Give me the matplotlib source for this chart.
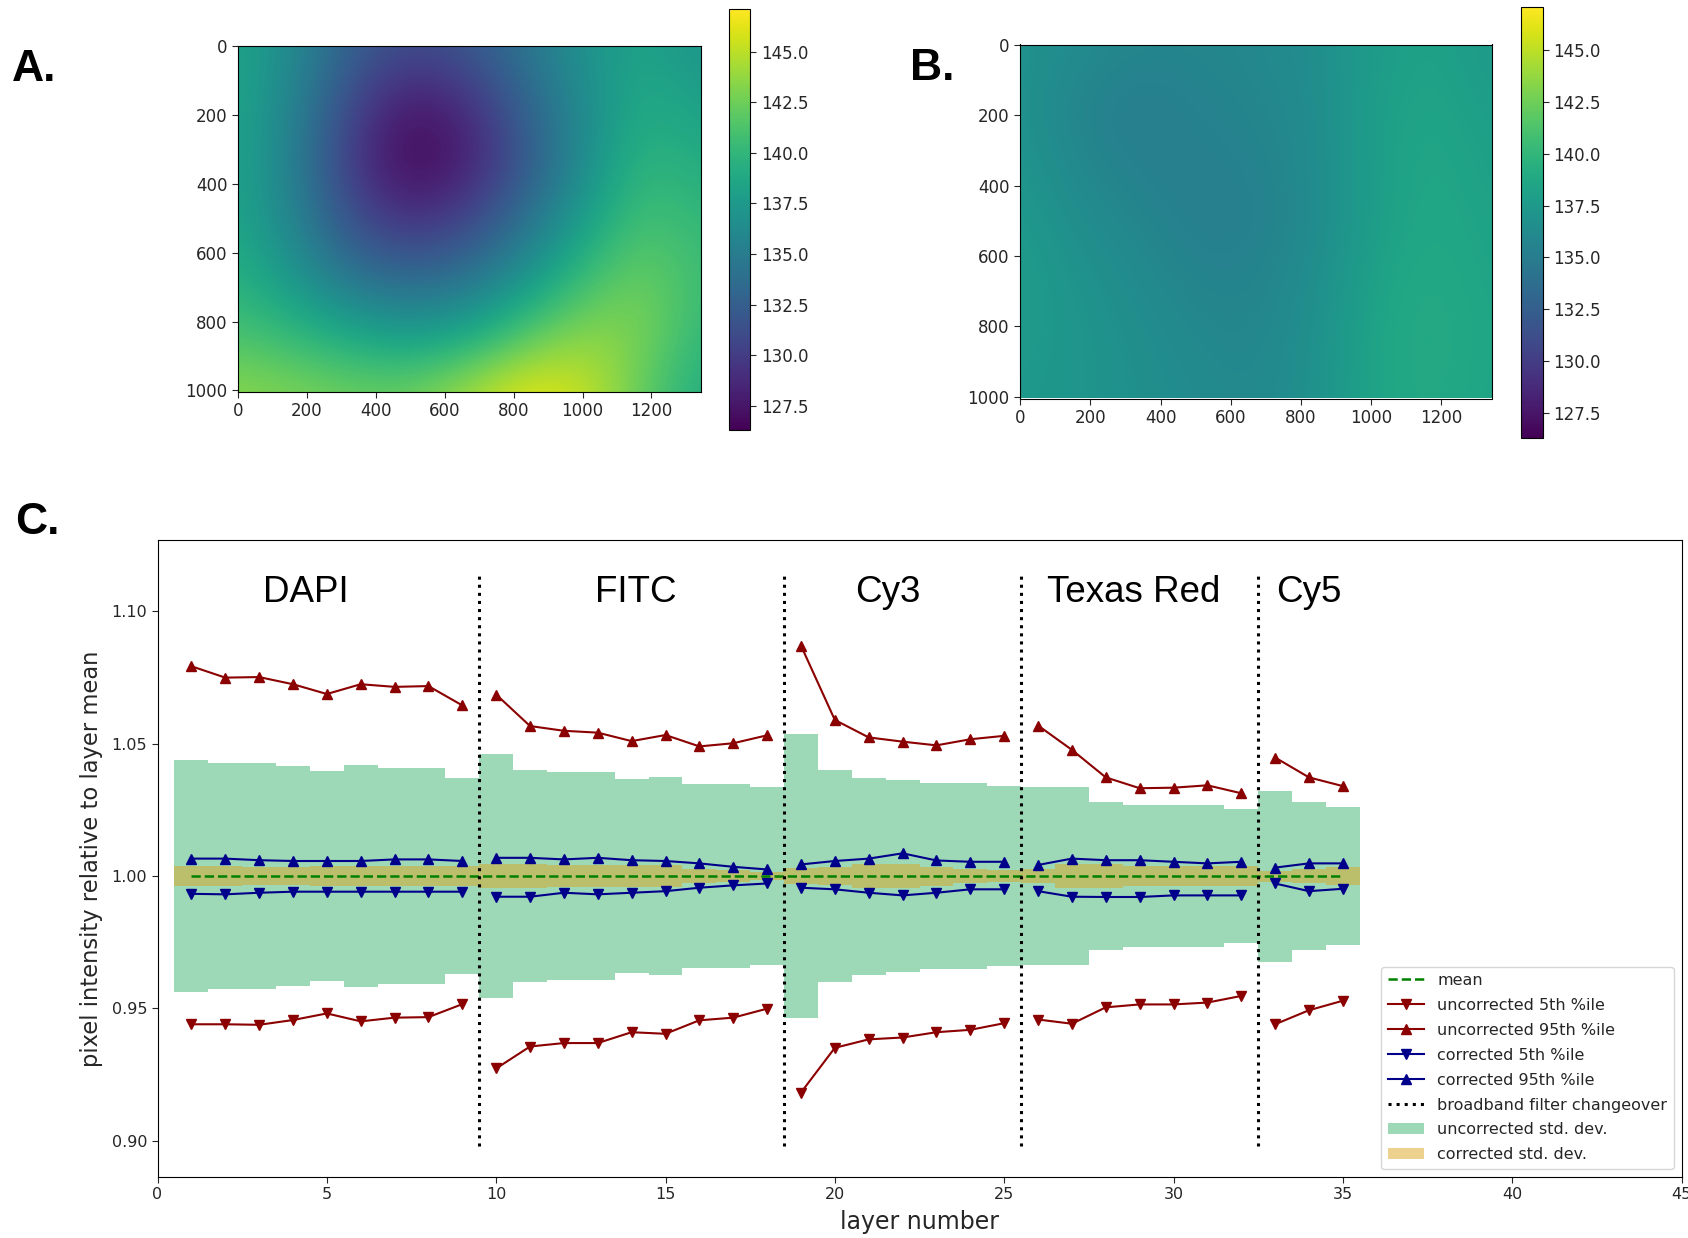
import numpy as np
import matplotlib
matplotlib.use("Agg")
import matplotlib.pyplot as plt
from matplotlib.lines import Line2D
from matplotlib.patches import Patch

# ---------------- data ----------------
# Panel A / B : coarse flat-field maps (rows y = 0..1000, cols x = 0..1344), read by eye
flatfield_uncorrected = [
    [138.5, 136.0, 132.5, 131.0, 132.0, 134.5, 137.0, 138.5, 137.0],
    [138.5, 135.5, 130.5, 127.5, 129.0, 133.0, 136.5, 139.0, 138.0],
    [138.5, 135.0, 129.5, 126.3, 128.0, 132.0, 136.5, 140.0, 139.0],
    [138.5, 135.5, 131.0, 129.0, 130.5, 134.0, 138.0, 141.0, 140.0],
    [139.5, 137.0, 134.0, 133.0, 134.0, 137.0, 140.5, 142.5, 140.5],
    [141.0, 140.0, 138.5, 137.5, 138.5, 141.5, 143.5, 143.0, 140.0],
    [143.5, 143.0, 142.5, 142.5, 144.5, 146.5, 145.5, 142.0, 139.0],
]
flatfield_corrected = [
    [137.0, 136.3, 135.8, 135.8, 136.0, 136.5, 137.8, 138.3, 137.5],
    [137.0, 135.6, 135.1, 135.5, 135.8, 136.3, 138.0, 138.5, 137.8],
    [137.2, 135.9, 135.3, 135.3, 135.5, 136.3, 138.0, 138.7, 138.0],
    [137.6, 136.5, 135.8, 135.2, 135.3, 136.2, 138.0, 138.8, 138.2],
    [137.8, 137.0, 136.3, 135.6, 135.6, 136.5, 138.3, 139.0, 138.3],
    [137.6, 137.2, 136.6, 136.0, 135.8, 136.7, 138.5, 139.2, 138.4],
    [137.4, 137.2, 136.7, 136.3, 136.0, 136.8, 138.5, 139.0, 138.3],
]
cbar_ticks = [127.5, 130.0, 132.5, 135.0, 137.5, 140.0, 142.5, 145.0]

# Panel C
channels = ["DAPI", "FITC", "Cy3", "Texas Red", "Cy5"]
channel_layers = [list(range(1, 10)), list(range(10, 19)), list(range(19, 26)),
                  list(range(26, 33)), list(range(33, 36))]
filter_changeovers = [9.5, 18.5, 25.5, 32.5]

unc_p95 = [1.0793, 1.0750, 1.0752, 1.0725, 1.0688, 1.0725, 1.0715, 1.0718, 1.0645,
           1.0686, 1.0567, 1.0549, 1.0542, 1.0510, 1.0533, 1.0490, 1.0502, 1.0532,
           1.0871, 1.0590, 1.0524, 1.0508, 1.0494, 1.0517, 1.0530,
           1.0569, 1.0477, 1.0373, 1.0332, 1.0334, 1.0343, 1.0313,
           1.0448, 1.0373, 1.0340]
unc_p5 = [0.9440, 0.9440, 0.9438, 0.9456, 0.9481, 0.9451, 0.9465, 0.9467, 0.9516,
          0.9273, 0.9356, 0.9369, 0.9369, 0.9410, 0.9404, 0.9455, 0.9465, 0.9499,
          0.9182, 0.9351, 0.9383, 0.9390, 0.9410, 0.9419, 0.9444,
          0.9458, 0.9442, 0.9504, 0.9515, 0.9515, 0.9522, 0.9547,
          0.9440, 0.9493, 0.9529]
cor_p95 = [1.0066, 1.0066, 1.0060, 1.0057, 1.0057, 1.0057, 1.0063, 1.0063, 1.0057,
           1.0069, 1.0069, 1.0063, 1.0069, 1.0060, 1.0057, 1.0048, 1.0035, 1.0025,
           1.0044, 1.0057, 1.0066, 1.0086, 1.0059, 1.0054, 1.0054,
           1.0042, 1.0066, 1.0060, 1.0060, 1.0054, 1.0048, 1.0054,
           1.0032, 1.0048, 1.0048]
cor_p5 = [0.9933, 0.9931, 0.9937, 0.9941, 0.9941, 0.9941, 0.9941, 0.9941, 0.9941,
          0.9922, 0.9922, 0.9937, 0.9931, 0.9937, 0.9943, 0.9956, 0.9965, 0.9972,
          0.9956, 0.9950, 0.9937, 0.9927, 0.9937, 0.9950, 0.9950,
          0.9943, 0.9922, 0.9921, 0.9921, 0.9927, 0.9927, 0.9927,
          0.9972, 0.9943, 0.9952]
unc_std = [0.0439, 0.0428, 0.0428, 0.0415, 0.0398, 0.0418, 0.0409, 0.0409, 0.0371,
           0.0460, 0.0399, 0.0392, 0.0392, 0.0365, 0.0374, 0.0347, 0.0347, 0.0335,
           0.0537, 0.0400, 0.0372, 0.0364, 0.0353, 0.0353, 0.0341,
           0.0337, 0.0337, 0.0281, 0.0267, 0.0268, 0.0268, 0.0252,
           0.0323, 0.0281, 0.0261]
cor_std = [0.0038, 0.0038, 0.0035, 0.0035, 0.0037, 0.0037, 0.0037, 0.0037, 0.0037,
           0.0044, 0.0044, 0.0040, 0.0043, 0.0040, 0.0040, 0.0026, 0.0022, 0.0016,
           0.0030, 0.0035, 0.0044, 0.0044, 0.0036, 0.0028, 0.0024,
           0.0028, 0.0046, 0.0046, 0.0038, 0.0038, 0.0038, 0.0038,
           0.0021, 0.0028, 0.0033]
mean_level = 1.0

# ---------------- figure ----------------
W, H = 1688, 1238
fig = plt.figure(figsize=(W / 100, H / 100), dpi=100)
fig.patch.set_facecolor("white")


def box(l, t, r, b):
    return [l / W, 1 - b / H, (r - l) / W, (b - t) / H]


VMIN, VMAX = 126.3, 147.1
TXT = "#262626"


def heatmap(ax, cax, grid):
    arr = np.array(grid)
    nr, nc = arr.shape
    dx = 1344 / (nc - 1)
    dy = 1000 / (nr - 1)
    im = ax.imshow(arr, cmap="viridis", vmin=VMIN, vmax=VMAX, interpolation="bicubic",
                   extent=[-dx / 2, 1344 + dx / 2, 1000 + dy / 2, -dy / 2], aspect="auto")
    ax.set_xlim(-0.5, 1343.5)
    ax.set_ylim(1004.5, -0.5)
    ax.set_xticks(range(0, 1201, 200))
    ax.set_yticks(range(0, 1001, 200))
    ax.tick_params(labelsize=12, colors=TXT, length=4)
    cb = fig.colorbar(im, cax=cax)
    cb.set_ticks(cbar_ticks)
    cb.ax.set_yticklabels([f"{t:.1f}" for t in cbar_ticks])
    cb.ax.tick_params(labelsize=12, colors=TXT, length=4)
    cb.outline.set_linewidth(0.8)


axA = fig.add_axes(box(238, 46.3, 700.8, 391.9))
caxA = fig.add_axes(box(729, 9, 750.5, 430))
heatmap(axA, caxA, flatfield_uncorrected)

axB = fig.add_axes(box(1020, 44.5, 1491.5, 398.5))
caxB = fig.add_axes(box(1521, 7, 1542.7, 437.5))
heatmap(axB, caxB, flatfield_corrected)

# panel letters
lab_kw = dict(fontsize=32, fontweight="bold", family=["Liberation Sans", "DejaVu Sans"],
              va="baseline", ha="left", color="black")
fig.text(12 / W, 1 - 81 / H, "A.", **lab_kw)
fig.text(910 / W, 1 - 80 / H, "B.", **lab_kw)
fig.text(15 / W, 1 - 534 / H, "C.", **lab_kw)

# ---------------- panel C ----------------
ax = fig.add_axes(box(157.5, 540, 1681.5, 1176.7))
layers = np.arange(1, len(unc_std) + 1)
edges = np.concatenate([layers - 0.5, [layers[-1] + 0.5]])
u = np.append(unc_std, unc_std[-1])
c = np.append(cor_std, cor_std[-1])

ax.fill_between(edges, mean_level - u, mean_level + u, step="post",
                color="mediumseagreen", alpha=0.5, linewidth=0, zorder=1)
ax.fill_between(edges, mean_level - c, mean_level + c, step="post",
                color="goldenrod", alpha=0.5, linewidth=0, zorder=2)

ax.plot(layers, np.full(len(layers), mean_level), "--", color="green", lw=1.8, zorder=5)

RED, BLUE = "darkred", "darkblue"
for lay in channel_layers:
    idx = np.array(lay) - 1
    x = np.array(lay)
    ax.plot(x, np.array(unc_p5)[idx], "-v", color=RED, lw=1.5, ms=7, zorder=4)
    ax.plot(x, np.array(unc_p95)[idx], "-^", color=RED, lw=1.5, ms=7, zorder=4)
    ax.plot(x, np.array(cor_p5)[idx], "-v", color=BLUE, lw=1.5, ms=7, zorder=4)
    ax.plot(x, np.array(cor_p95)[idx], "-^", color=BLUE, lw=1.5, ms=7, zorder=4)

ax.vlines(filter_changeovers, 0.898, 1.115, colors="black", linestyles=":", lw=2.2, zorder=6)

label_x = [4.38, 14.12, 21.56, 28.82, 33.99]
for name, lx in zip(channels, label_x):
    ax.text(lx, 1.1035, name, fontsize=26.5, family=["Liberation Sans", "DejaVu Sans"],
            ha="center", va="baseline", color="black")

ax.set_xlim(0, 45)
ax.set_ylim(0.8864, 1.127)
ax.set_xticks(range(0, 46, 5))
ax.set_yticks([0.90, 0.95, 1.00, 1.05, 1.10])
ax.set_yticklabels(["0.90", "0.95", "1.00", "1.05", "1.10"])
ax.tick_params(labelsize=11.5, colors=TXT, length=4)
ax.set_xlabel("layer number", fontsize=17, color=TXT, labelpad=6)
ax.set_ylabel("pixel intensity relative to layer mean", fontsize=16.3, color=TXT, labelpad=6)

handles = [
    Line2D([], [], ls="--", color="green", lw=1.8),
    Line2D([], [], ls="-", marker="v", color=RED, lw=1.5, ms=7),
    Line2D([], [], ls="-", marker="^", color=RED, lw=1.5, ms=7),
    Line2D([], [], ls="-", marker="v", color=BLUE, lw=1.5, ms=7),
    Line2D([], [], ls="-", marker="^", color=BLUE, lw=1.5, ms=7),
    Line2D([], [], ls=":", color="black", lw=2.2),
    Patch(facecolor="mediumseagreen", alpha=0.5, linewidth=0),
    Patch(facecolor="goldenrod", alpha=0.5, linewidth=0),
]
labels = ["mean", "uncorrected 5th %ile", "uncorrected 95th %ile", "corrected 5th %ile",
          "corrected 95th %ile", "broadband filter changeover", "uncorrected std. dev.",
          "corrected std. dev."]
leg = ax.legend(handles, labels, loc="lower right", fontsize=11.5, labelcolor=TXT,
                labelspacing=0.62, handlelength=2.3)

fig.savefig("out.png", dpi=100, facecolor="white")
